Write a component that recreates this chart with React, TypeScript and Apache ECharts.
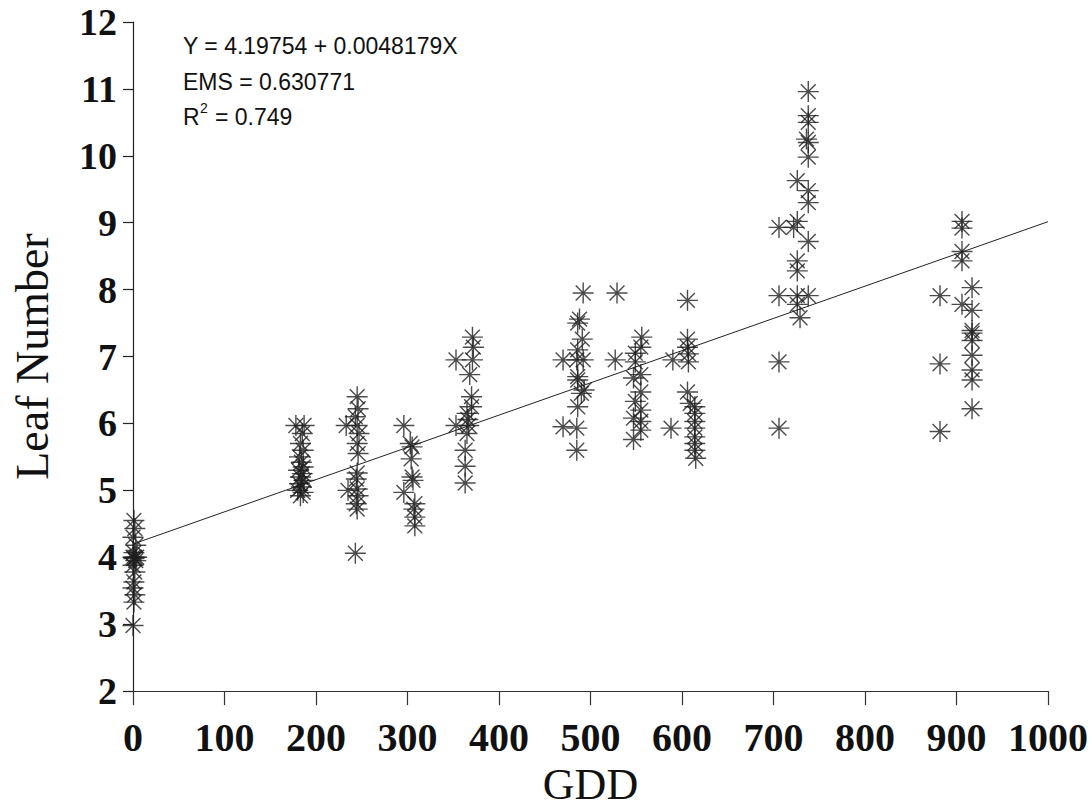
import React, { useEffect, useRef } from "react";
import * as echarts from "echarts";

// ---- data (GDD, Leaf Number) ----
const cluster0: [number, number][] = [
  [1, 4.55], [2, 4.43], [0, 4.3], [3, 4.18], [1, 4.07], [0, 4.0], [2, 4.0], [4, 4.0],
  [1, 3.98], [3, 3.95], [0, 3.88], [2, 3.78], [1, 3.63], [0, 3.54], [2, 3.44], [1, 3.33], [0, 2.98],
];
const cluster183: [number, number][] = [
  [178, 5.97], [187, 5.97], [185, 5.85], [183, 5.7], [186, 5.6], [182, 5.5], [184, 5.42], [186, 5.35],
  [181, 5.3], [185, 5.25], [183, 5.2], [187, 5.15], [182, 5.1], [184, 5.05], [180, 5.0], [186, 4.97], [183, 4.92],
];
const cluster245: [number, number][] = [
  [245, 6.4], [246, 6.22], [243, 6.1], [233, 5.97], [245, 5.97], [247, 5.85], [245, 5.7], [246, 5.55],
  [245, 5.26], [244, 5.17], [235, 5.0], [245, 5.02], [246, 4.92], [244, 4.8], [245, 4.72], [243, 4.06],
];
const cluster300: [number, number][] = [
  [296, 5.97], [303, 5.7], [305, 5.65], [304, 5.47], [305, 5.2], [306, 5.15], [296, 4.97],
  [308, 4.8], [307, 4.72], [308, 4.6], [308, 4.47],
];
const cluster365: [number, number][] = [
  [353, 6.95], [353, 5.97], [371, 7.29], [372, 7.14], [371, 6.95], [368, 6.73], [370, 6.4], [370, 6.25],
  [365, 6.15], [366, 6.06], [367, 5.97], [365, 5.85], [363, 5.6], [363, 5.36], [363, 5.11],
];
const cluster485: [number, number][] = [
  [492, 7.95], [488, 7.56], [486, 7.5], [491, 7.26], [486, 7.1], [470, 6.95], [485, 6.95], [492, 6.95],
  [486, 6.7], [486, 6.65], [493, 6.5], [490, 6.45], [486, 6.25], [470, 5.95], [485, 5.93], [485, 5.6],
];
const cluster530: [number, number][] = [[529, 7.95], [527, 6.95]];
const cluster552: [number, number][] = [
  [556, 7.29], [555, 7.14], [549, 7.05], [549, 6.92], [555, 6.73], [547, 6.68], [555, 6.47],
  [549, 6.33], [555, 6.2], [547, 6.08], [555, 6.03], [555, 5.9], [547, 5.76],
];
const cluster590: [number, number][] = [[590, 6.95], [588, 5.93]];
const cluster610: [number, number][] = [
  [606, 7.84], [606, 7.26], [606, 7.14], [607, 7.04], [607, 6.92], [606, 6.47], [609, 6.3], [614, 6.25],
  [614, 6.15], [614, 6.03], [614, 5.93], [614, 5.8], [614, 5.7], [614, 5.6], [615, 5.48],
];
const cluster730: [number, number][] = [
  [738, 10.96], [738, 10.6], [738, 10.5], [736, 10.25], [738, 10.2], [738, 9.98], [726, 9.63], [738, 9.48],
  [738, 9.3], [726, 9.02], [706, 8.93], [722, 8.93], [738, 8.72], [726, 8.43], [726, 8.28], [706, 7.91],
  [726, 7.91], [738, 7.91], [726, 7.78], [729, 7.58], [706, 6.92], [706, 5.93],
];
const cluster905: [number, number][] = [
  [906, 9.02], [906, 8.92], [906, 8.57], [906, 8.43], [917, 8.03], [882, 7.91], [906, 7.78], [917, 7.69],
  [917, 7.39], [917, 7.35], [917, 7.24], [917, 7.02], [882, 6.89], [917, 6.8], [917, 6.65], [917, 6.22], [882, 5.88],
];

const intercept = 4.19754;
const slope = 0.0048179;
const fitX = [0, 1000];

const xTicks = [0, 100, 200, 300, 400, 500, 600, 700, 800, 900, 1000];
const yTicks = [2, 3, 4, 5, 6, 7, 8, 9, 10, 11, 12];

const equationLines = ["Y = 4.19754 + 0.0048179X", "EMS = 0.630771"];
const r2Text = "= 0.749";

const ASTERISK =
  "path://M10 0 L10 20 M0 10 L20 10 M2.93 2.93 L17.07 17.07 M2.93 17.07 L17.07 2.93";

export default function App() {
  const ref = useRef<HTMLDivElement>(null);
  useEffect(() => {
    if (!ref.current) return;
    const chart = echarts.init(ref.current, undefined, { renderer: "svg" });
    const allPoints = [
      ...cluster0, ...cluster183, ...cluster245, ...cluster300, ...cluster365, ...cluster485,
      ...cluster530, ...cluster552, ...cluster590, ...cluster610, ...cluster730, ...cluster905,
    ];
    const fitData = fitX.map((x) => [x, intercept + slope * x]);
    const serif = "'Liberation Serif', 'Times New Roman', serif";
    const sans = "'Liberation Sans', Arial, sans-serif";
    chart.setOption({
      animation: false,
      backgroundColor: "#fff",
      grid: { left: 133, right: 44, top: 22, bottom: 114, containLabel: false },
      xAxis: {
        type: "value",
        min: xTicks[0],
        max: xTicks[xTicks.length - 1],
        interval: 100,
        name: "GDD",
        nameLocation: "middle",
        nameGap: 66,
        nameTextStyle: { fontFamily: serif, fontSize: 44, color: "#111", verticalAlign: "top" },
        axisLine: { show: true, lineStyle: { color: "#333", width: 1.2 } },
        axisTick: { show: true, length: 14, lineStyle: { color: "#333", width: 1.2 } },
        axisLabel: {
          fontFamily: serif, fontWeight: "bold", fontSize: 40, color: "#111", margin: 26,
          verticalAlign: "top",
          formatter: (v: number) => String(v),
        },
        splitLine: { show: false },
      },
      yAxis: {
        type: "value",
        min: yTicks[0],
        max: yTicks[yTicks.length - 1],
        interval: 1,
        name: "Leaf Number",
        nameLocation: "middle",
        nameGap: 78,
        nameRotate: 90,
        nameTextStyle: { fontFamily: serif, fontSize: 46, color: "#111" },
        axisLine: { show: true, lineStyle: { color: "#222", width: 1.2 } },
        axisTick: { show: true, length: 10, lineStyle: { color: "#222", width: 1.2 } },
        axisLabel: {
          fontFamily: serif, fontWeight: "bold", fontSize: 38, color: "#111", margin: 16,
          formatter: (v: number) => String(v),
        },
        splitLine: { show: false },
      },
      series: [
        {
          type: "line",
          data: fitData,
          symbol: "none",
          lineStyle: { color: "#222", width: 1 },
          z: 1,
        },
        {
          type: "scatter",
          data: allPoints,
          symbol: ASTERISK,
          symbolSize: 21,
          itemStyle: { color: "transparent", borderColor: "#1e1e1e", borderWidth: 1.4 },
          z: 2,
        },
      ],
      graphic: [
        {
          type: "text", left: 183, top: 34,
          style: { text: equationLines[0], font: `23px ${sans}`, fill: "#111" },
        },
        {
          type: "text", left: 183, top: 70,
          style: { text: equationLines[1], font: `23px ${sans}`, fill: "#111" },
        },
        {
          type: "text", left: 183, top: 105,
          style: { text: "R", font: `23px ${sans}`, fill: "#111" },
        },
        {
          type: "text", left: 200, top: 101,
          style: { text: "2", font: `14px ${sans}`, fill: "#111" },
        },
        {
          type: "text", left: 215, top: 105,
          style: { text: r2Text, font: `23px ${sans}`, fill: "#111" },
        },
      ],
    });
    return () => chart.dispose();
  }, []);
  return <div ref={ref} style={{ width: 1092, height: 811, position: "absolute", left: 0, top: 0 }} />;
}
